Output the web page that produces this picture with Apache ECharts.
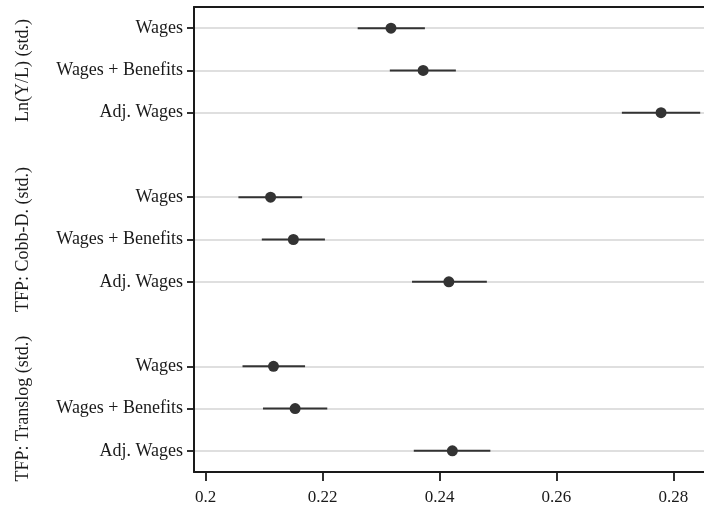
<!DOCTYPE html>
<html>
<head>
<meta charset="utf-8">
<script src="https://cdn.jsdelivr.net/npm/echarts@6/dist/echarts.min.js"></script>
<style>
  html, body { margin: 0; padding: 0; background: #fff; }
  #main { width: 704px; height: 508px; }
</style>
</head>
<body>
<div id="main"></div>
<script>
// row labels from top to bottom (empty rows separate the groups)
var rowLabels = ['Wages', 'Wages + Benefits', 'Adj. Wages', '',
                 'Wages', 'Wages + Benefits', 'Adj. Wages', '',
                 'Wages', 'Wages + Benefits', 'Adj. Wages'];
var groupNames = ['Ln(Y/L) (std.)', 'TFP: Cobb-D. (std.)', 'TFP: Translog (std.)'];
var groupRows = [1, 5, 9];

// estimates and confidence bands
var estRows   = [0, 1, 2, 4, 5, 6, 8, 9, 10];
var estimates = [0.2317, 0.2372, 0.2779, 0.2111, 0.2150, 0.2416, 0.2116, 0.2153, 0.2422];
var ciLow     = [0.2260, 0.2315, 0.2712, 0.2056, 0.2096, 0.2353, 0.2063, 0.2098, 0.2356];
var ciHigh    = [0.2375, 0.2428, 0.2846, 0.2165, 0.2204, 0.2481, 0.2170, 0.2208, 0.2487];

var xTicks = [0.2, 0.22, 0.24, 0.26, 0.28];

var font = 'Liberation Serif';
var ink = '#1a1a1a';

var pointData = [];
var barData = [];
for (var i = 0; i < estRows.length; i++) {
    pointData.push([estimates[i], estRows[i]]);
    barData.push([ciLow[i], ciHigh[i], estRows[i]]);
}

var myChart = echarts.init(document.getElementById('main'));

var option = {
    animation: false,
    grid: { left: 194, top: 7, right: 0, bottom: 36 },
    xAxis: [
        {
            type: 'value',
            min: 0.198,
            max: 0.28525,
            axisLine: { show: true, onZero: false, lineStyle: { color: ink, width: 2 } },
            axisTick: { show: true, length: 9, customValues: xTicks, lineStyle: { color: ink, width: 1.8 } },
            axisLabel: {
                customValues: xTicks,
                margin: 17,
                fontFamily: font,
                fontSize: 17,
                color: ink,
                formatter: function (v) { return String(Math.round(v * 100) / 100); }
            },
            splitLine: { show: false }
        },
        {
            type: 'value',
            position: 'top',
            min: 0.198,
            max: 0.28525,
            axisLine: { show: true, onZero: false, lineStyle: { color: ink, width: 2 } },
            axisTick: { show: false },
            axisLabel: { show: false },
            splitLine: { show: false }
        }
    ],
    yAxis: {
        type: 'value',
        inverse: true,
        min: -0.5,
        max: 10.5,
        axisLine: { show: true, onZero: false, lineStyle: { color: ink, width: 2 } },
        axisTick: { show: true, length: 7, customValues: estRows, lineStyle: { color: ink, width: 1.8 } },
        axisLabel: {
            customValues: estRows,
            margin: 11,
            fontFamily: font,
            fontSize: 18,
            color: ink,
            formatter: function (v) { return rowLabels[Math.round(v)]; }
        },
        splitLine: { show: true, lineStyle: { color: '#d4d4d4', width: 1.5 } }
    },
    series: [
        {
            type: 'custom',
            name: 'ci',
            data: barData,
            renderItem: function (params, api) {
                var a = api.coord([api.value(0), api.value(2)]);
                var b = api.coord([api.value(1), api.value(2)]);
                return {
                    type: 'line',
                    shape: { x1: a[0], y1: a[1], x2: b[0], y2: b[1] },
                    style: { stroke: '#333333', lineWidth: 2 }
                };
            },
            z: 3
        },
        {
            type: 'scatter',
            name: 'estimate',
            data: pointData,
            symbol: 'circle',
            symbolSize: 11,
            itemStyle: { color: '#333333', opacity: 1 },
            z: 4
        }
    ]
};
myChart.setOption(option);

// vertical group titles, centred on the middle row of each group
var texts = [];
for (var g = 0; g < groupNames.length; g++) {
    var py = myChart.convertToPixel({ yAxisIndex: 0 }, groupRows[g]);
    texts.push({
        type: 'text',
        x: 23,
        y: py,
        rotation: Math.PI / 2,
        style: {
            text: groupNames[g],
            fontFamily: font,
            fontSize: 18,
            fill: ink,
            textAlign: 'center',
            textVerticalAlign: 'middle'
        }
    });
}
myChart.setOption({ graphic: texts });
</script>
</body>
</html>
